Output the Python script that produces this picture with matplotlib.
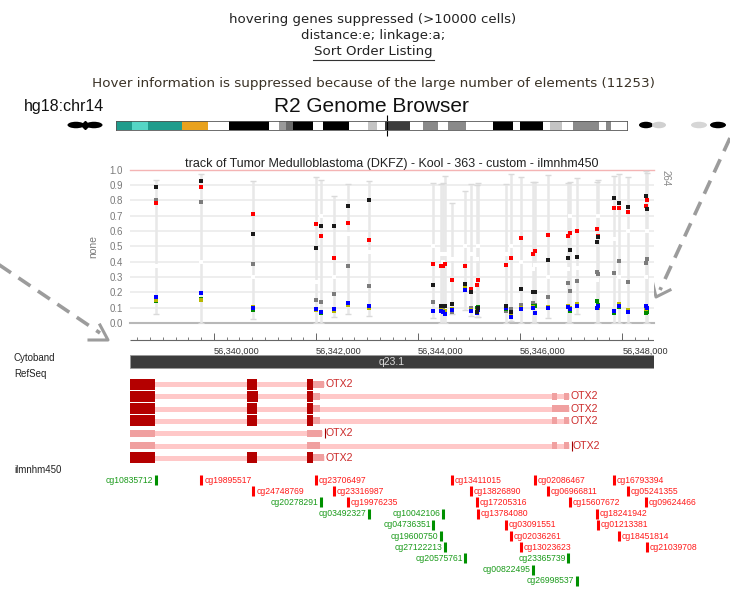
import numpy as np
import matplotlib
matplotlib.use('Agg')
import matplotlib.pyplot as plt
import matplotlib.transforms as mtransforms
from matplotlib.patches import Ellipse

# ---- data ----
view_start, view_end = 56338354, 56348624

probe_names = ['cg10835712', 'cg19895517', 'cg24748769', 'cg23706497', 'cg20278291',
               'cg23316987', 'cg19976235', 'cg03492327', 'cg04736351', 'cg19600750',
               'cg10042106', 'cg27122213', 'cg13411015', 'cg20575761', 'cg13826890',
               'cg17205316', 'cg13784080', 'cg03091551', 'cg02036261', 'cg13023623',
               'cg00822495', 'cg02086467', 'cg06966811', 'cg23365739', 'cg15607672',
               'cg26998537', 'cg18241942', 'cg01213381', 'cg16793394', 'cg18451814',
               'cg05241355', 'cg09624466', 'cg21039708']
probe_pos = [56338863, 56339755, 56340774, 56341999, 56342097, 56342352, 56342617,
             56343038, 56344302, 56344449, 56344488, 56344528, 56344665, 56344929,
             56345037, 56345155, 56345174, 56345723, 56345821, 56346017, 56346252,
             56346282, 56346546, 56346948, 56346978, 56347115, 56347507, 56347526,
             56347840, 56347938, 56348105, 56348467, 56348487]
probe_strand = ['-', '+', '+', '+', '-', '+', '+', '-', '-', '-', '-', '-', '+', '-', '+',
                '+', '+', '+', '+', '+', '-', '+', '+', '-', '+', '-', '+', '+', '+', '+',
                '+', '+', '+']
probe_lane = [0, 0, 1, 0, 2, 1, 2, 3, 4, 5, 3, 6, 0, 7, 1, 2, 3, 4, 5, 6, 8, 0, 1, 7, 2,
              9, 3, 4, 0, 5, 1, 2, 6]

val_black = [0.885, 0.924, 0.578, 0.487, 0.633, 0.633, 0.765, 0.80, 0.246, 0.113, 0.11,
             0.113, 0.122, 0.254, 0.20, 0.074, 0.10, 0.11, 0.074, 0.22, 0.204, 0.20,
             0.41, 0.424, 0.478, 0.43, 0.53, 0.559, 0.817, 0.783, 0.757, 0.83, 0.743]
val_gray = [0.80, 0.79, 0.385, 0.152, 0.135, 0.187, 0.374, 0.24, 0.139, 0.09, 0.10,
            0.06, 0.074, 0.24, 0.10, 0.09, 0.09, 0.08, 0.09, 0.12, 0.128, 0.12, 0.172,
            0.263, 0.21, 0.272, 0.33, 0.317, 0.324, 0.404, 0.27, 0.39, 0.42]
val_red = [0.785, 0.885, 0.71, 0.646, 0.565, 0.426, 0.652, 0.54, 0.385, 0.374, 0.372,
           0.385, 0.28, 0.374, 0.22, 0.248, 0.28, 0.38, 0.426, 0.552, 0.45, 0.472, 0.576,
           0.57, 0.585, 0.602, 0.611, 0.57, 0.746, 0.746, 0.724, 0.763, 0.802]
val_blue = [0.17, 0.193, 0.095, 0.088, 0.07, 0.089, 0.128, 0.109, 0.08, 0.08, 0.07, 0.06,
            0.085, 0.215, 0.076, 0.065, 0.085, 0.098, 0.041, 0.09, 0.10, 0.066, 0.10,
            0.102, 0.09, 0.111, 0.10, 0.11, 0.076, 0.113, 0.074, 0.111, 0.10]
val_green = [0.143, 0.156, 0.087, 0.085, 0.063, 0.083, 0.117, 0.098, 0.076, 0.08, 0.075,
             0.08, 0.09, 0.239, 0.08, 0.096, 0.102, 0.09, 0.07, 0.095, 0.113, 0.11, 0.10,
             0.105, 0.08, 0.115, 0.146, 0.12, 0.063, 0.102, 0.08, 0.067, 0.07]
val_yellow = [0.152, 0.15, 0.107, 0.087, 0.074, 0.078, 0.12, 0.10, 0.08, 0.085, 0.08,
              0.075, 0.091, 0.23, 0.087, 0.08, 0.09, 0.113, 0.06, 0.096, 0.105, 0.067,
              0.107, 0.111, 0.10, 0.124, 0.098, 0.10, 0.08, 0.124, 0.085, 0.09, 0.096]
val_white = [0.37, 0.40, 0.30, 0.265, 0.70, 0.30, 0.58, 0.465, 0.50, 0.45, 0.40, 0.45,
             0.42, 0.50, 0.45, 0.42, 0.50, 0.45, 0.50, 0.40, 0.35, 0.38, 0.30, 0.35, 0.70,
             0.36, 0.28, 0.70, 0.55, 0.30, 0.60, 0.30, 0.60]
val_lo = [0.06, 0.0, 0.026, 0.0, 0.0, 0.037, 0.059, 0.043, 0.033, 0.0, 0.0, 0.0, 0.059,
          0.087, 0.045, 0.04, 0.04, 0.0, 0.015, 0.0, 0.0, 0.0, 0.03, 0.0, 0.0, 0.06, 0.0,
          0.0, 0.0, 0.0, 0.0, 0.0, 0.0]
val_hi = [0.933, 0.97, 0.926, 0.954, 0.933, 0.826, 0.906, 0.926, 0.913, 0.906, 0.913,
          0.96, 0.783, 0.861, 0.906, 0.902, 0.913, 0.906, 0.97, 0.95, 0.92, 0.92, 0.965,
          0.915, 0.92, 0.943, 0.92, 0.93, 0.958, 0.97, 0.95, 0.987, 0.98]

# OTX2 transcripts (coding exons / UTR or non-coding blocks)
tx_coding = [
    [(56338200, 56338844), (56340647, 56340843), (56341823, 56341940)],
    [(56338200, 56338844), (56340647, 56340862), (56341823, 56341940)],
    [(56338200, 56338844), (56340647, 56340843), (56341823, 56341940)],
    [(56338200, 56338844), (56340647, 56340843), (56341823, 56341940)],
    [],
    [],
    [(56338200, 56338844), (56340647, 56340843), (56341823, 56341940)],
]
tx_utr = [
    [(56341940, 56342156)],
    [(56341940, 56342078), (56346625, 56346723), (56346860, 56346958)],
    [(56341940, 56342078), (56346625, 56346958)],
    [(56341940, 56342078), (56346625, 56346723), (56346860, 56346958)],
    [(56338200, 56338844), (56341823, 56342117)],
    [(56338200, 56338844), (56341823, 56342078), (56346625, 56346723), (56346860, 56346958)],
    [(56341940, 56342156)],
]
tx_noncoding = [False, False, False, False, True, True, False]

band_name, band_start, band_end = 'q23.1', 56200000, 58400000

# chr14 ideogram (Mb)
ideo_edges = [0, 3.3, 6.7, 13.7, 19.2, 23.5, 31.9, 33.9, 35.4, 36.9, 41.0, 43.1, 48.5,
              52.5, 54.3, 56.0, 61.2, 63.9, 67.0, 69.1, 72.9, 78.5, 82.7, 84.1, 88.9,
              90.4, 92.9, 95.1, 100.6, 102.0, 103.1, 106.4]
ideo_colors = ['#1f9c8c', '#55d6c6', '#1f9c8c', '#e8a21e', 'white', 'black', 'white',
               '#9a9a9a', '#6a6a6a', 'black', 'white', 'black', 'white', '#c4c4c4',
               'white', '#3c3c3c', 'white', '#8a8a8a', 'white', '#8a8a8a', 'white',
               'black', 'white', 'black', 'white', '#c4c4c4', 'white', '#8a8a8a',
               'white', '#8a8a8a', 'white']
view_mb = 56.34

W, H = 730, 599
fig = plt.figure(figsize=(7.3, 5.99), dpi=100)


def px_axes(l, t, r, b):
    return fig.add_axes([l / W, 1 - b / H, (r - l) / W, (b - t) / H])


bg = px_axes(0, 0, W, H)
bg.set_xlim(0, W)
bg.set_ylim(H, 0)
bg.axis('off')

# header
hdr = dict(ha='center', va='center', fontsize=9.6, family='DejaVu Sans', color='#222')
bg.text(373, 19, 'hovering genes suppressed (>10000 cells)', **hdr)
bg.text(373, 35, 'distance:e; linkage:a;', **hdr)
bg.text(373, 52, 'Sort Order Listing', **hdr)
bg.plot([313, 434], [60, 60], color='#333', lw=0.8)
bg.text(374, 84, 'Hover information is suppressed because of the large number of elements (11253)',
        ha='center', va='center', fontsize=9.7, color='#3a3226')
bg.text(24, 106, 'hg18:chr14', ha='left', va='center', fontsize=11.5,
        family='Liberation Sans', color='#111')
bg.text(371, 106, 'R2 Genome Browser', ha='center', va='center', fontsize=15,
        family='Liberation Sans', color='#111')

# small chromosome icons
for cx, w, c in [(76, 17, 'black'), (94, 17, 'black'), (646, 14, 'black'), (659, 14, '#d0d0d0'),
                 (699, 16, '#d6d6d6'), (718, 16, 'black')]:
    bg.add_patch(Ellipse((cx, 125), w, 6.5, color=c, lw=0))
bg.plot([85], [125], marker='D', ms=4, color='black')

# ideogram
ide = px_axes(116, 121, 627, 130)
ide.barh(0.5, np.diff(ideo_edges), left=ideo_edges[:-1], height=1, color=ideo_colors, lw=0)
ide.set_xlim(ideo_edges[0], ideo_edges[-1])
ide.set_ylim(0, 1)
ide.set_xticks([])
ide.set_yticks([])
for s in ide.spines.values():
    s.set_color('#555')
    s.set_linewidth(0.6)
ide.vlines(view_mb, -0.7, 1.7, color='black', lw=0.8, clip_on=False)

# dashed pointer arrows
acol = '#9c9c9c'
bg.plot([-5, 100], [262, 333], color=acol, lw=2.6, ls=(0, (4, 2.5)))
bg.plot([89, 108, 100], [340, 340, 325], color=acol, lw=2.2)
bg.plot([730, 660], [138, 290], color=acol, lw=2.6, ls=(0, (4, 2.5)))
bg.plot([652, 656, 670], [280, 297, 290], color=acol, lw=2.2)

# track labels
for y, t in [(358, 'Cytoband'), (374, 'RefSeq'), (470, 'ilmnhm450')]:
    bg.text(14, y, t, ha='left', va='center', fontsize=7, family='Liberation Sans', color='#222')

# ---- methylation track ----
sc = px_axes(130, 169.5, 654, 323)
sc.set_xlim(view_start, view_end)
sc.set_ylim(0, 1)
for s in sc.spines.values():
    s.set_visible(False)
sc.set_xticks([])
yt = np.round(np.arange(0, 1.01, 0.1), 1)
sc.set_yticks(yt)
sc.set_yticklabels([f'{v:.1f}' for v in yt], family='Liberation Sans')
sc.tick_params(axis='y', length=0, pad=5, labelsize=7, labelcolor='#7a7a7a')
sc.set_ylabel('none', fontsize=7.5, color='#7a7a7a', labelpad=8, family='Liberation Sans')
sc.set_title('track of Tumor Medulloblastoma (DKFZ) - Kool - 363 - custom - ilmnhm450',
             fontsize=9, family='Liberation Sans', color='#222', pad=2)
for v in yt[1:-1]:
    sc.axhline(v, color='#ededed', lw=1.3, zorder=0)
sc.axhline(1.0, color='#f4b4b4', lw=1, zorder=0, clip_on=False)
sc.axhline(0.0, color='#b8b8b8', lw=1.5, zorder=0, clip_on=False)
sc.text(1.012, 1.0, '264', transform=sc.transAxes, rotation=-90, ha='left', va='top',
        fontsize=7, color='#888', family='Liberation Sans')

sc.vlines(probe_pos, val_lo, val_hi, color='#e8e8e8', lw=1.8, zorder=1)
sc.plot(probe_pos, val_hi, '_', ms=4.5, mew=1, color='#dadada', zorder=1)
sc.plot(probe_pos, val_lo, '_', ms=4.5, mew=1, color='#dadada', zorder=1)
for vals, c in [(val_white, 'white'), (val_gray, '#7c7c7c'), (val_green, '#008a00'),
                (val_yellow, '#b8b800'), (val_blue, '#0000ff'), (val_red, '#ff0000'),
                (val_black, '#1a1a1a')]:
    sc.plot(probe_pos, vals, 's', ms=3, mew=0, color=c, zorder=3, clip_on=False)

# ---- ruler, cytoband, refseq, probes ----
tr = px_axes(130, 330, 654, 599)
tr.set_xlim(view_start, view_end)
tr.set_ylim(599, 330)
tr.axis('off')

minor = np.arange(np.ceil(view_start / 250) * 250, view_end, 250)
major = np.arange(np.ceil(view_start / 2000) * 2000, view_end, 2000)
tr.hlines(340, view_start, view_end, color='#666', lw=0.8)
tr.vlines(minor, 336.5, 340, color='#666', lw=0.6)
tr.vlines(major, 333, 340, color='#666', lw=0.7)
for m in major:
    tr.text(m, 351, f'{int(m):,}', ha='left', va='center', fontsize=6.6,
            family='Liberation Sans', color='#333', clip_on=False)

b0, b1 = max(band_start, view_start), min(band_end, view_end)
tr.barh(361, b1 - b0, left=b0, height=13, color='#3c3c3c', edgecolor='#9a9a9a', lw=0.6)
tr.text((b0 + b1) / 2, 361.5, band_name, ha='center', va='center', fontsize=7.5,
        family='Liberation Sans', color='#dcdcdc')

for i, (cod, utr, nc) in enumerate(zip(tx_coding, tx_utr, tx_noncoding)):
    y = 384 + i * 12.3
    blocks = cod + utr
    s0 = min(b[0] for b in blocks)
    s1 = max(b[1] for b in blocks)
    tr.hlines(y, s0, s1, color='#ffc8c8', lw=3.6, zorder=1)
    for a, b in utr:
        tr.barh(y, b - a, left=a, height=7, color='#f0a0a0', lw=0, zorder=2)
    for a, b in cod:
        tr.barh(y, b - a, left=a, height=11, color='#b40000', lw=0, zorder=3)
    off = 1
    if nc:
        tr.vlines(s1 + 60, y - 5, y + 5, color='#a00000', lw=0.8, zorder=3)
        off = 2.5
    tr.text(s1, y, 'OTX2', ha='left', va='center', fontsize=7.6, family='Liberation Sans',
            color='#cc2a2a', clip_on=False,
            transform=mtransforms.offset_copy(tr.transData, fig=fig, x=off, y=0, units='points'))

for name, pos, strand, lane in zip(probe_names, probe_pos, probe_strand, probe_lane):
    y = 480 + lane * 11.2
    col = '#ff1a1a' if strand == '+' else '#1a9a1a'
    bar = '#ff0000' if strand == '+' else '#009000'
    tr.vlines(pos, y - 5, y + 5, color=bar, lw=2.2)
    dx = 2 if strand == '+' else -2
    tr.text(pos, y, name, ha='left' if strand == '+' else 'right', va='center',
            fontsize=6.2, family='Liberation Sans', color=col, clip_on=False,
            transform=mtransforms.offset_copy(tr.transData, fig=fig, x=dx, y=0, units='points'))

fig.savefig('out.png', dpi=100)
